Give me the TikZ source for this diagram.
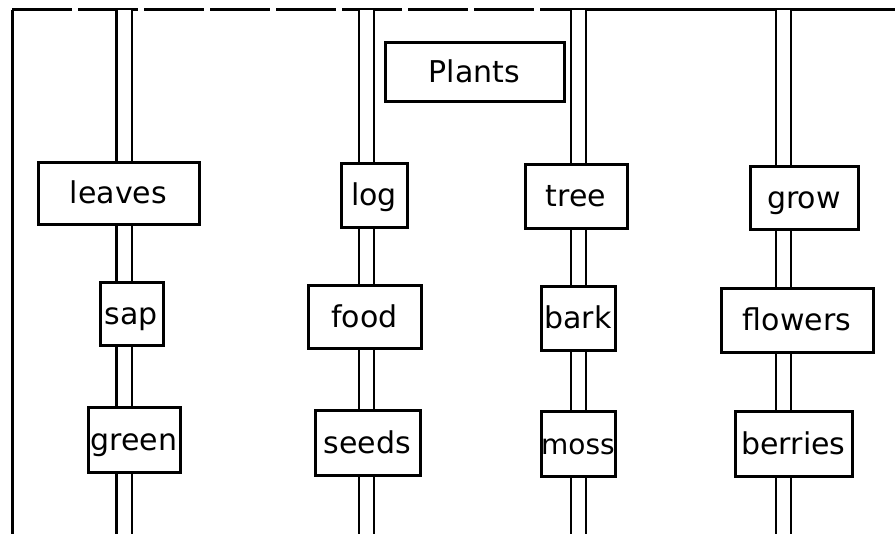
\documentclass[tikz,border=0pt]{standalone}
\usepackage{fontspec}
\setmainfont{DejaVu Sans}
\begin{document}
\begin{tikzpicture}[x=1pt,y=-1pt,
  pole/.style={line width=2.4pt,double=white,double distance=13pt},
  word/.style={draw,line width=3pt,fill=white,inner sep=0,text height=20pt,text depth=0pt,
    font=\fontsize{30}{32}\selectfont}]
\useasboundingbox(0,0)rectangle(895,534);
% frame
\draw[line width=3pt,dash pattern=on 60pt off 6pt](12,10)--(600,10);
\draw[line width=3pt](600,10)--(895,10);
\draw[line width=3pt](12,10)--(12,534);
% poles
\coordinate(P1t)at(124,10);\coordinate(P1b)at(124,536);
\coordinate(P2t)at(366.5,10);\coordinate(P2b)at(366.5,536);
\coordinate(P3t)at(578.5,10);\coordinate(P3b)at(578.5,536);
\coordinate(P4t)at(783.5,10);\coordinate(P4b)at(783.5,536);
\draw[pole](P1t)--(P1b);
\draw[pole](P2t)--(P2b);
\draw[pole](P3t)--(P3b);
\draw[pole](P4t)--(P4b);
% boxes
\node[word,minimum width=179,minimum height=59](plants)at(474.5,72.5){Plants};
\node[word,minimum width=161,minimum height=62](leaves)at(118.5,194){leaves};
\node[word,minimum width=66,minimum height=64](log)at(374,196){log};
\node[word,minimum width=102,minimum height=64](tree)at(576,197){tree};
\node[word,minimum width=108,minimum height=63](grow)at(804,198.5){grow};
\node[word,minimum width=63,minimum height=63](sap)at(131.5,314.5){sap};
\node[word,minimum width=113,minimum height=63](food)at(364.5,317.5){food};
\node[word,minimum width=74,minimum height=64](bark)at(578,319){bark};
\node[word,minimum width=152,minimum height=64](flowers)at(797,321){flowers};
\node[word,minimum width=92,minimum height=65](green)at(134,440.5){green};
\node[word,minimum width=105,minimum height=65](seeds)at(367.5,443.5){seeds};
\node[word,minimum width=74,minimum height=65,font=\fontsize{28}{30}\selectfont](moss)at(578,444.5){moss};
\node[word,minimum width=117,minimum height=65](berries)at(793.5,444.5){berries};
\end{tikzpicture}
\end{document}
